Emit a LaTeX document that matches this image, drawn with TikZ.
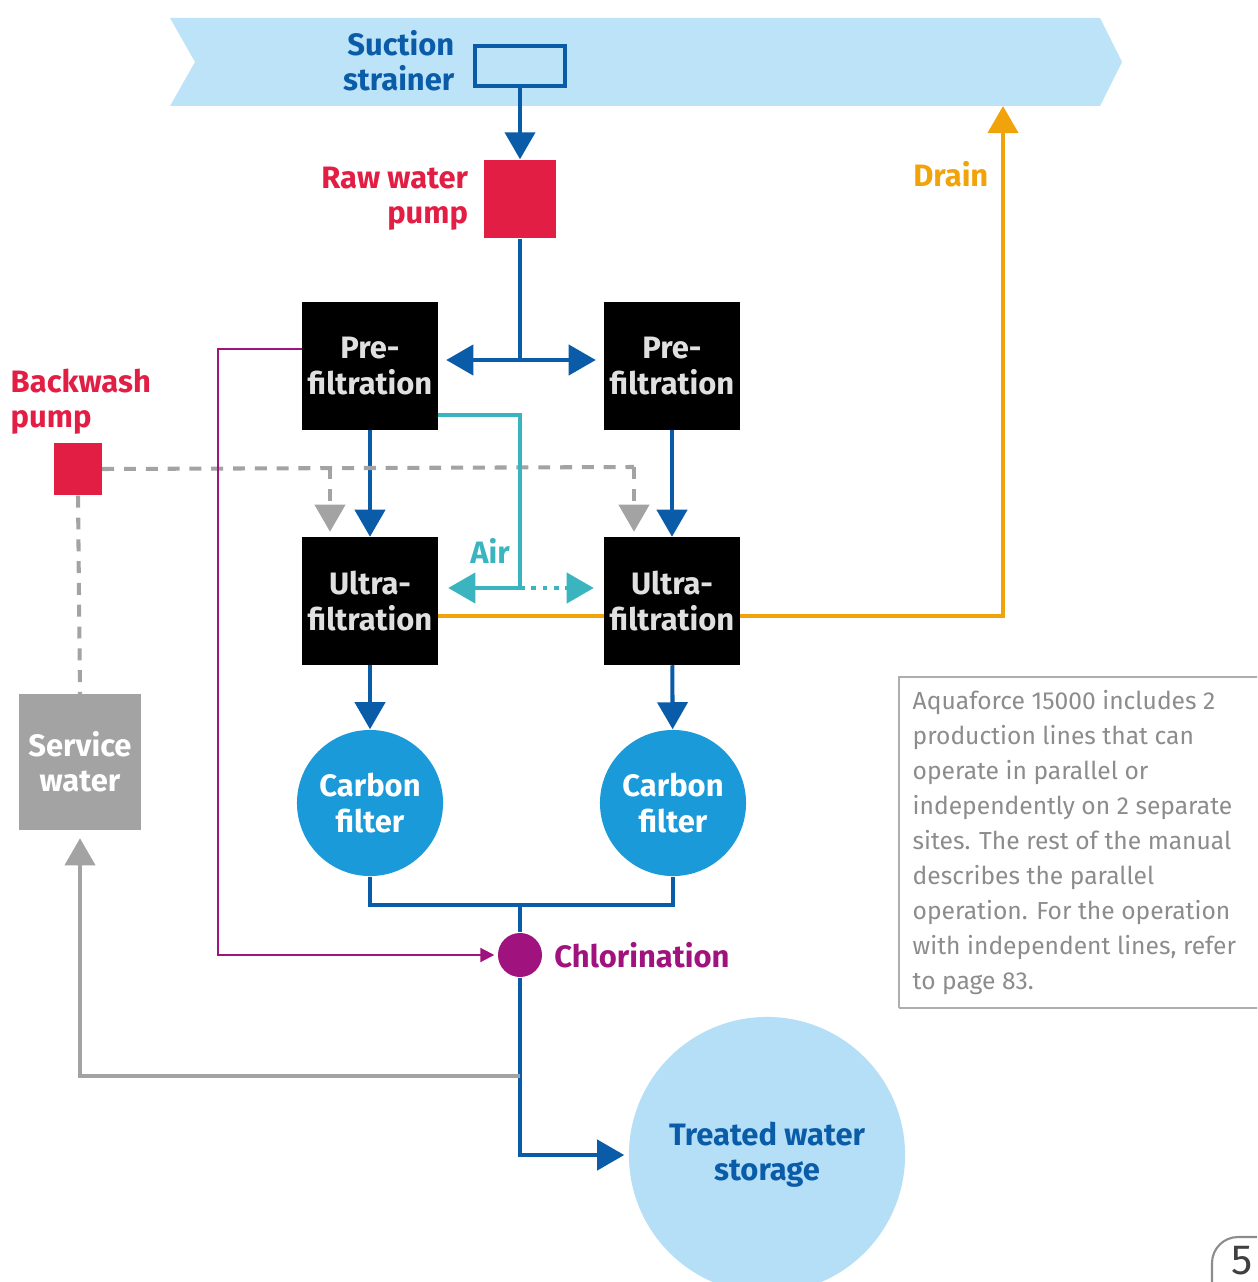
\documentclass[tikz,border=0pt]{standalone}
\usepackage{fontspec}
\setmainfont{Fira Sans}
\usetikzlibrary{arrows.meta,calc,positioning}
\definecolor{PipeClr}{HTML}{0A5CA8}
\definecolor{PumpClr}{HTML}{E31E45}
\definecolor{DrainClr}{HTML}{F0A30A}
\definecolor{AirClr}{HTML}{3AB5C0}
\definecolor{WashClr}{HTML}{A3A3A3}
\definecolor{ChlorClr}{HTML}{A0127E}
\definecolor{CarbonClr}{HTML}{1A9AD9}
\definecolor{RiverClr}{HTML}{BCE3F8}
\definecolor{TankClr}{HTML}{B5DFF6}
\definecolor{NoteClr}{HTML}{8C8C8C}

\tikzset{
  lbl/.style={font=\bfseries\fontsize{8.8}{10}\selectfont,align=center,inner sep=0pt},
  unit/.style={lbl,fill=black,text=white!88!black,minimum width=1.35cm,minimum height=1.27cm},
  pump/.style={fill=PumpClr,inner sep=0pt},
  filter/.style={lbl,circle,fill=CarbonClr,text=white,minimum size=1.46cm},
  pipe/.style={PipeClr,line width=1.15pt},
  wash/.style={WashClr,line width=1.15pt},
  washdash/.style={wash,dash pattern=on 3.4pt off 2.8pt},
  chem/.style={ChlorClr,line width=0.6pt},
  air/.style={AirClr,line width=1.15pt},
  drain/.style={DrainClr,line width=1.15pt},
}

\begin{document}
\begin{tikzpicture}[x=0.01cm,y=-0.01cm,>={Triangle[length=2.7mm,width=3mm]}]

\useasboundingbox (0,0) rectangle (1257,1282);
\clip (0,0) rectangle (1257,1282);

\fill[RiverClr] (170,18) -- (1100,18) -- (1122,62) -- (1100,106) -- (170,106) -- (195,62) -- cycle;
\coordinate (outlet) at (1003,106);

\node[draw=PipeClr,line width=1.15pt,minimum width=0.9cm,minimum height=0.4cm,inner sep=0pt] (strainer) at (520,66) {};
\node[lbl,text=PipeClr,align=right,anchor=east] (strainerlbl) at (455,61) {Suction\\strainer};

\node[pump,minimum width=0.71cm,minimum height=0.78cm] (rawpump) at (520,199) {};
\node[lbl,text=PumpClr,align=right,left=1.5mm of rawpump] (rawpumplbl) {Raw water\\pump};

\node[unit] (pre1) at (370,366) {Pre-\\filtration};
\node[unit] (pre2) at (672,366) {Pre-\\filtration};
\node[unit] (uf1) at (370,601) {Ultra-\\filtration};
\node[unit] (uf2) at (672,601) {Ultra-\\filtration};
\node[filter] (cf1) at (370,803) {Carbon\\filter};
\node[filter] (cf2) at (673,803) {Carbon\\filter};

\node[circle,fill=ChlorClr,minimum size=0.44cm,inner sep=0pt] (chlor) at (520,955) {};
\node[lbl,text=ChlorClr,right=1.1mm of chlor] (chlorlbl) {Chlorination};

\node[lbl,circle,fill=TankClr,text=PipeClr,minimum size=2.76cm] (storage) at (767,1155) {Treated water\\storage};

\node[pump,minimum width=0.47cm,minimum height=0.52cm] (bwpump) at (78,469) {};
\node[lbl,text=PumpClr,align=left,anchor=west] (bwpumplbl) at (10,402) {Backwash\\pump};
\node[lbl,fill=WashClr,text=white,minimum width=1.21cm,minimum height=1.35cm] (service) at (80,762) {Service\\water};

\draw[pipe,->] (strainer.south) -- (rawpump.north);
\draw[pipe] (rawpump.south) -- (520,360) coordinate (split);
\draw[pipe,->,shorten >=0.8mm] (split) -- (split -| pre1.east);
\draw[pipe,->,shorten >=0.8mm] (split) -- (split -| pre2.west);
\draw[pipe,->] (pre1) -- (uf1);
\draw[pipe,->] (pre2) -- (uf2);
\draw[pipe,->] (uf1) -- (cf1);
\draw[pipe,->] (uf2) -- (cf2);
\draw[pipe] (cf1.south) |- (520,905) coordinate (merge) -| (cf2.south);
\draw[pipe] (merge) -- (chlor.north);
\draw[pipe,->,shorten >=0.4mm] (chlor.south) |- (storage.west);

\coordinate (w1) at (330,467);
\coordinate (w2) at (634,467);
\draw[washdash] (bwpump.east) -- (w2);
\draw[washdash,->,shorten >=0.5mm] (w1) -- (w1 |- uf1.north);
\draw[washdash,->,shorten >=0.5mm] (w2) -- (w2 |- uf2.north);
\draw[washdash] (bwpump.south) -- (service.north);
\coordinate (tee) at (520,1076);
\draw[wash,->,shorten >=0.8mm] (tee) -| (service.south);

\draw[chem,-{Triangle[length=1.4mm,width=1.4mm]},shorten >=0.3mm] ([yshift=1.7mm]pre1.west) -| (218,955) -- (chlor.west);

\draw[air] ([yshift=-4.9mm]pre1.east) -| (520,588) coordinate (airj);
\draw[air,->,shorten >=1mm] (airj) -- (airj -| uf1.east);
\draw[air,->,dash pattern=on 1.4pt off 1.8pt,shorten >=1mm] (airj) -- (airj -| uf2.west);
\node[lbl,text=AirClr] (airlbl) at (490,551) {Air};

\draw[drain] ([yshift=-1.5mm]uf1.east) -- ([yshift=-1.5mm]uf2.west);
\draw[drain,->] ([yshift=-1.5mm]uf2.east) -| (outlet);
\node[lbl,text=DrainClr,anchor=east] (drainlbl) at (989,174) {Drain};

\draw[NoteClr!70,line width=0.8pt] (899,1008) -- (899,677) -- (1270,677);
\draw[NoteClr!70,line width=0.8pt] (899,1008) -- (1270,1008);
\node[anchor=north west,align=left,inner sep=0pt,text=NoteClr,font=\fontsize{7}{9.95}\selectfont] (note) at (912,690)
  {Aquaforce 15000 includes 2\\production lines that can\\operate in parallel or\\independently on 2 separate\\sites. The rest of the manual\\describes the parallel\\operation. For the operation\\with independent lines, refer\\to page 83.};

\draw[NoteClr,line width=0.6pt,rounded corners=2.6mm] (1212,1300) |- (1300,1237);
\node[text=black!75,font=\fontsize{12}{13}\selectfont,inner sep=0pt] (page) at (1242,1261) {5};

\end{tikzpicture}
\end{document}
